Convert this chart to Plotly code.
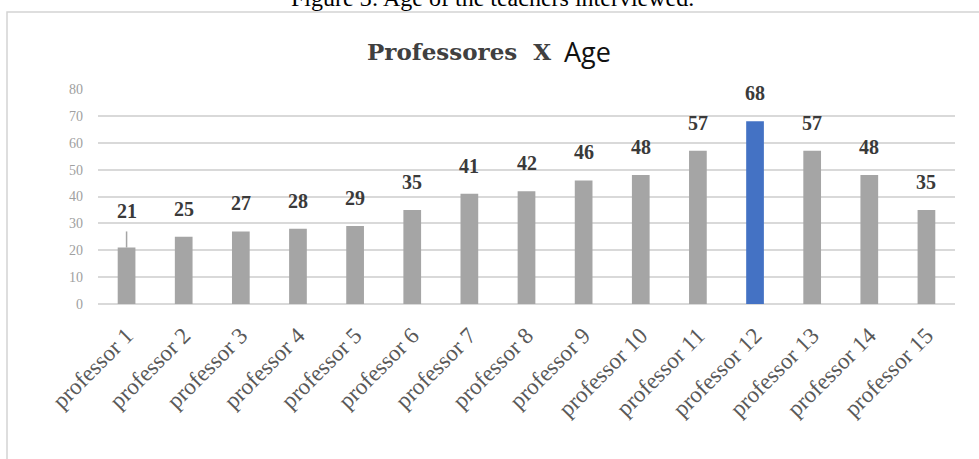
import plotly.graph_objects as go

# Ages of the interviewed teachers
professors = [f"professor {i}" for i in range(1, 16)]
ages = [21, 25, 27, 28, 29, 35, 41, 42, 46, 48, 57, 68, 57, 48, 35]
# Upper error segment (only shown on the first bar)
err_up = [6, None, None, None, None, None, None, None, None, None, None, None, None, None, None]
highlight = "professor 12"

y_ticks = [0, 10, 20, 30, 40, 50, 60, 70, 80]

GRAY = "#a5a5a5"
BLUE = "#4472c4"
colors = [BLUE if p == highlight else GRAY for p in professors]

W, H = 979, 459
L, R, T, B = 98, 24, 89, 155
plot_w = W - L - R
plot_h = H - T - B


def px_x(px):
    return (px - L) / plot_w


def px_y(py):
    return (H - B - py) / plot_h


fig = go.Figure()
fig.add_trace(go.Bar(
    x=professors,
    y=ages,
    marker=dict(color=colors, line=dict(width=0)),
    error_y=dict(type="data", symmetric=False, array=err_up,
                 arrayminus=[0] * len(ages), color=GRAY, thickness=1.5, width=0),
    hoverinfo="x+y",
))

# value labels above each bar
for p, a, e in zip(professors, ages, err_up):
    top = a + (e or 0)
    fig.add_annotation(
        x=p, y=top, xref="x", yref="y", text=str(a), showarrow=False,
        yanchor="middle", yshift=28 if not e else 20,
        font=dict(family="Liberation Serif", size=20, color="#3a3a3a", weight="bold"),
    )

# chart title in two typefaces
fig.add_annotation(
    x=px_x(553), y=px_y(52), xref="paper", yref="paper", xanchor="right", yanchor="middle",
    text="<b>Professores  X</b>", showarrow=False,
    font=dict(family="DejaVu Serif", size=23, color="#404040"),
)
fig.add_annotation(
    x=px_x(562), y=px_y(51), xref="paper", yref="paper", xanchor="left", yanchor="middle",
    text="Age", showarrow=False,
    font=dict(family="Open Sans", size=27, color="#111111"),
)

# figure caption
fig.add_annotation(
    x=px_x(492), y=px_y(13), xref="paper", yref="paper", xanchor="center", yanchor="bottom",
    text="Figure 3: Age of the teachers interviewed.", showarrow=False,
    font=dict(family="Liberation Serif", size=24, color="#000000"),
)

# outer frame around the chart
fig.add_shape(
    type="rect", xref="paper", yref="paper",
    x0=px_x(7), x1=px_x(W + 20), y0=px_y(H + 20), y1=px_y(12),
    line=dict(color="#d4d4d4", width=1.5), fillcolor="rgba(0,0,0,0)", layer="below",
)

fig.update_layout(
    width=W, height=H,
    margin=dict(l=L, r=R, t=T, b=B, pad=0),
    paper_bgcolor="white", plot_bgcolor="white",
    bargap=0.69, showlegend=False,
)
fig.update_xaxes(
    tickangle=-45, showgrid=False, showline=False, zeroline=False,
    ticks="outside", ticklen=8, tickcolor="rgba(0,0,0,0)",
    tickfont=dict(family="Liberation Serif", size=23, color="#595959"),
)
fig.update_yaxes(
    range=[0, 80], tickvals=y_ticks, showgrid=True, gridcolor="#d9d9d9", gridwidth=1.5,
    zeroline=True, zerolinecolor="#d9d9d9", zerolinewidth=1.5, showline=False,
    ticklabelstandoff=14,
    tickfont=dict(family="Liberation Serif", size=14, color="#a0a0a0"),
)

fig.write_html("out.html")
